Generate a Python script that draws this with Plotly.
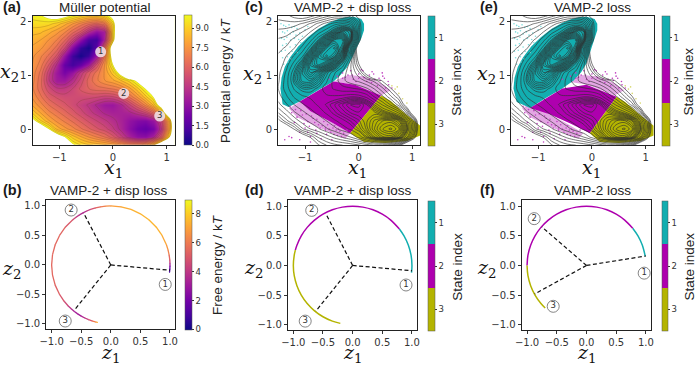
import numpy as np
import plotly.graph_objects as go
from plotly.colors import sample_colorscale

W, H = 696, 365

# energy surface, one list per row of the grid
grid_x = [-1.5, -1.35, -1.2, -1.05, -0.9, -0.75, -0.6, -0.45, -0.3, -0.15, 0, 0.15, 0.3, 0.45, 0.6, 0.75, 0.9, 1.05, 1.2]
grid_y = [-0.3, -0.15, 0, 0.15, 0.3, 0.45, 0.6, 0.75, 0.9, 1.05, 1.2, 1.35, 1.5, 1.65, 1.8, 1.95, 2.1]
row_00 = [28, 23, 18, 14.5, 12, 10.2, 9.5, 9.1, 8.9, 8.7, 8.4, 8, 7.6, 7.7, 8.2, 9.6, 12.5, 17, 25]
row_01 = [18, 14.5, 12, 11.2, 10, 8.8, 8.1, 7.5, 7, 6.5, 5.7, 4.7, 3.7, 3, 2.9, 3.7, 5.8, 9.6, 16]
row_02 = [13, 11.5, 10, 8.4, 7.7, 7.2, 6.6, 6.1, 5.6, 5.2, 4.6, 3.8, 2.9, 2.2, 1.9, 2.4, 4.4, 8.2, 14]
row_03 = [10.5, 9.1, 8.1, 7.4, 6.9, 6.4, 5.9, 5.4, 5, 4.6, 4.2, 3.7, 3.1, 2.7, 2.6, 3.2, 5, 8.4, 15]
row_04 = [8.9, 8, 7.2, 6.7, 6.2, 5.7, 5.2, 4.7, 4.3, 3.9, 3.7, 3.7, 3.8, 4.3, 4.9, 6, 8.2, 12.3, 22]
row_05 = [7.9, 7.2, 6.5, 6, 5.6, 5.2, 4.8, 4.4, 3.9, 3.4, 3.3, 3.9, 4.9, 6, 7.2, 8.6, 11, 18, 30]
row_06 = [7.4, 6.6, 5.8, 5.4, 5.2, 5.2, 5.2, 5.2, 5.1, 4.9, 5, 5.5, 6.6, 7.6, 8.8, 10, 15, 24, 35]
row_07 = [7.1, 6.2, 5.2, 4.6, 4.6, 5, 5.6, 6, 6.3, 6.4, 6.6, 7, 7.8, 8.8, 10, 12.5, 20, 30, 35]
row_08 = [7.2, 6.2, 4.6, 3.5, 3.4, 4.2, 5.2, 6.2, 6.9, 7.5, 7.9, 8.5, 9.2, 10.3, 13, 18, 28, 35, 35]
row_09 = [7.3, 6.4, 4.8, 3.4, 2.4, 3.2, 4.6, 5.8, 6.7, 7.6, 8.8, 10.8, 15, 22, 35, 35, 35, 35, 35]
row_10 = [7.5, 6.8, 5.6, 4, 1.9, 1.1, 1.9, 3.3, 5.5, 7.6, 10, 14, 20, 30, 35, 35, 35, 35, 35]
row_11 = [7.6, 7.1, 6.4, 5.4, 3.2, 1, 0.2, 0.9, 3.2, 6.7, 11, 16, 24, 35, 35, 35, 35, 35, 35]
row_12 = [7.9, 7.6, 7.1, 6.3, 5, 2.7, 0.8, 0.2, 1.7, 6.2, 11.5, 17, 26, 35, 35, 35, 35, 35, 35]
row_13 = [8.2, 8, 7.5, 7, 6.1, 4.8, 3, 1.2, 1, 3.8, 9.2, 14, 24, 35, 35, 35, 35, 35, 35]
row_14 = [8.7, 8.6, 8.2, 7.7, 7.1, 6.2, 5.4, 4, 3, 3.6, 9.2, 12.5, 22, 35, 35, 35, 35, 35, 35]
row_15 = [9.3, 9.3, 9.2, 8.8, 8.2, 7.5, 6.8, 6.2, 5.8, 6.5, 9.2, 13, 24, 35, 35, 35, 35, 35, 35]
row_16 = [9.7, 9.9, 10.4, 10.8, 10.4, 9.8, 9.2, 8.7, 8.8, 9.3, 10.6, 16, 28, 35, 35, 35, 35, 35, 35]
potential = [row_00, row_01, row_02, row_03, row_04, row_05, row_06, row_07, row_08,
             row_09, row_10, row_11, row_12, row_13, row_14, row_15, row_16]

# labelled minima on panel (a)
min_x = [-0.23, 0.2, 0.87]
min_y = [1.43, 0.66, 0.24]

# free energy along the circle, panel (b)
b_angle = [-7, -4, -1, 2, 5, 10, 15, 20, 30, 40, 50, 60, 70, 80, 90, 95, 100, 105, 110,
           114, 118, 122, 126, 130, 140, 150, 160, 170, 180, 190, 200, 210, 218, 224,
           228, 232, 236, 240, 244, 248, 252, 255, 257]
b_energy = [0.8, 1.5, 2.5, 4, 5, 6, 6.6, 7, 7.4, 7.5, 7.5, 7.5, 7.4, 7.2, 6.8, 6.4, 5.8, 5.2, 4.5,
            3.9, 3.5, 3.7, 4.2, 4.8, 5.3, 5.5, 5.5, 5.5, 5.5, 5.5, 5.4, 5.2, 4.8, 4.3,
            3.7, 3.3, 3.2, 3.3, 3.9, 4.6, 5.6, 6.5, 7.5]

# arcs coloured by state, angles in degrees
d_teal = [-7, 0, 10, 20, 30, 38]
d_magenta = [38, 50, 60, 70, 80, 90, 100, 110, 120, 130, 140, 150, 160, 165]
d_olive = [165, 170, 180, 190, 200, 210, 220, 230, 240, 250, 258]
f_teal = [9, 20, 30, 39]
f_magenta = [39, 50, 60, 70, 80, 90, 100, 110, 120, 130, 140, 150, 160, 170, 180]
f_olive = [180, 190, 200, 210, 220, 226]

# dashed spokes and circled labels
b_spoke_x = [[0, 1.0], [0, -0.46], [0, -0.62]]
b_spoke_y = [[0, -0.09], [0, 0.88], [0, -0.77]]
b_label_x = [0.92, -0.67, -0.77]
b_label_y = [-0.33, 0.93, -0.95]
d_spoke_x = [[0, 1.0], [0, -0.45], [0, -0.62]]
d_spoke_y = [[0, -0.09], [0, 0.87], [0, -0.77]]
d_label_x = [0.9, -0.69, -0.8]
d_label_y = [-0.33, 0.93, -0.94]
f_spoke_x = [[0, 1.0], [0, -0.75], [0, -0.87]]
f_spoke_y = [[0, 0.16], [0, 0.65], [0, -0.48]]
f_label_x = [0.97, -0.88, -0.56]
f_label_y = [-0.13, 0.79, -0.69]

# state regions of the sampled points, panels (c) and (e)
c_teal_x = [-1.42, -1.31, -1.12, -0.94, -0.7, -0.47, -0.34, -0.22, -0.12, -0.04, 0.05, 0.1, 0.1, 0.05, -0.1,
            -0.25, -0.38, -0.55, -0.75, -0.95, -1.13, -1.28, -1.38, -1.44, -1.46]
c_teal_y = [0.46, 0.41, 0.5, 0.61, 0.75, 0.88, 1.0, 1.14, 1.32, 1.5, 1.68, 1.83, 1.95, 2.04, 2.08,
            2.07, 2.04, 1.97, 1.86, 1.7, 1.53, 1.33, 1.15, 0.95, 0.75]
c_mag_x = [-1.1, -0.47, -0.07, 0.42, -0.16, -0.5, -0.9]
c_mag_y = [0.51, 0.88, 0.82, 0.62, -0.08, 0.12, 0.33]
c_olive_x = [0.42, 0.6, 0.85, 1.15, 1.15, 0.9, 0.5, 0.1, -0.16]
c_olive_y = [0.62, 0.52, 0.3, 0.06, -0.12, -0.22, -0.26, -0.24, -0.08]
e_teal_x = [-1.4, -1.15, -0.85, -0.55, -0.34, -0.2, -0.1, -0.02, 0.05, 0.1, 0.1, 0.05, -0.1,
            -0.25, -0.38, -0.55, -0.75, -0.95, -1.13, -1.28, -1.38, -1.44, -1.46]
e_teal_y = [0.5, 0.39, 0.58, 0.75, 0.9, 1.05, 1.22, 1.45, 1.68, 1.83, 1.95, 2.04, 2.08,
            2.07, 2.04, 1.97, 1.86, 1.7, 1.53, 1.33, 1.15, 0.95, 0.75]
e_mag_x = [-1.15, -0.55, -0.1, 0.46, -0.04, -0.4, -0.8]
e_mag_y = [0.39, 0.75, 0.82, 0.6, -0.08, 0.1, 0.28]
e_olive_x = [0.46, 0.62, 0.85, 1.15, 1.15, 0.9, 0.5, 0.15, -0.04]
e_olive_y = [0.6, 0.5, 0.3, 0.06, -0.12, -0.22, -0.26, -0.24, -0.08]
fringe_low_x = [-1.3, -1.15, -0.8, -0.5, -0.25, -0.16, -0.5, -0.9, -1.1]
fringe_low_y = [0.38, 0.22, 0.05, -0.08, -0.18, -0.08, 0.12, 0.33, 0.51]
fringe_up_x = [-0.47, -0.2, 0.1, 0.42, 0.6, 0.42, -0.07]
fringe_up_y = [0.88, 1.0, 0.98, 0.85, 0.72, 0.62, 0.82]

# stray points
cyan_x = [-1.45, -1.4, -1.36, -1.3, -1.25, -1.2, -1.15, -1.42, -1.38, -1.33, -1.28, -1.22, -1.17, -1.1,
          -1.44, -1.39, -1.34, -1.27, -1.2, -1.12, -1.05, -1.42, -1.35, -1.28, -1.18, -1.08, -1.0, -0.95,
          -1.44, -1.37, -1.3, -1.24, -1.15, -1.42, -1.33, -1.26, -1.4, -1.32]
cyan_y = [1.95, 1.92, 1.9, 1.93, 1.88, 1.9, 1.86, 1.8, 1.78, 1.82, 1.76, 1.8, 1.74, 1.78,
          1.68, 1.66, 1.7, 1.65, 1.68, 1.66, 1.72, 1.55, 1.58, 1.52, 1.56, 1.6, 1.84, 1.9,
          1.44, 1.46, 1.4, 1.44, 1.42, 1.32, 1.34, 1.3, 1.2, 1.24]
pink_x = [-0.55, -0.4, -0.3, -0.2, -0.1, 0.0, 0.1, 0.2, 0.3, 0.45, 0.55, 0.62, -0.15, 0.05, 0.25, 0.4,
          0.15, 0.35, 0.5, -0.05, -1.25, -1.15, -1.05, -0.95, -0.85, -0.75, -0.65, -0.55, -0.45, -0.35,
          -1.2, -1.0, -0.8, -0.6, -0.4, -1.1, -0.9, -0.7, -0.5, -1.3, -1.38, -1.25, -1.1, -0.9,
          -1.28, -1.18, -1.08, -0.98, -0.88, -0.78, -0.68, -0.58, -0.48, -0.38, -0.28, -0.22,
          -1.02, -0.92, -0.82, -0.72, -0.62, -0.52, -0.42, -0.32, -0.95, -0.78, -0.62, -0.46,
          -0.3, -0.12, 0.08, 0.28, 0.48, -0.25, 0.0, 0.2, 0.38, 0.56, 0.44, 0.24]
pink_y = [0.92, 0.98, 0.94, 1.0, 0.92, 1.02, 0.95, 1.0, 0.92, 0.98, 0.88, 0.76, 1.08, 1.1, 1.06, 0.9,
          0.88, 0.8, 0.76, 0.88, 0.3, 0.22, 0.26, 0.14, 0.2, 0.08, 0.14, 0.0, 0.06, -0.04,
          0.12, 0.02, -0.02, -0.1, -0.12, -0.06, -0.14, -0.18, -0.2, -0.14, -0.2, -0.16, -0.2, -0.24,
          0.42, 0.36, 0.34, 0.28, 0.24, 0.18, 0.06, 0.08, 0.02, 0.0, -0.08, -0.02,
          0.1, 0.05, 0.12, 0.02, 0.02, -0.06, -0.02, -0.14, -0.06, -0.08, -0.02, -0.1,
          1.04, 1.0, 1.08, 1.02, 0.94, 0.96, 0.94, 0.92, 0.94, 0.82, 1.04, 0.86]
yellow_x = [0.68, 0.75, 0.62, 0.82, 0.9, 0.72]
yellow_y = [0.74, 0.66, 0.8, 0.56, 0.48, 0.78]

# tick labels
potential_ticks = [0, 1.5, 3, 4.5, 6, 7.5, 9]
potential_ticktext = ["0.0", "1.5", "3.0", "4.5", "6.0", "7.5", "9.0"]
free_ticks = [0, 2, 4, 6, 8]
state_ticks = [1, 2, 3]
state_ticktext = ["3", "2", "1"]

TEAL, MAGENTA, OLIVE = "#12aeb0", "#ae00ae", "#b4b400"
TICK_FONT = dict(family="DejaVu Sans", size=10, color="#333333")
SMALL_FONT = dict(family="DejaVu Sans", size=8.5, color="#333333")
TITLE_FONT = dict(family="Liberation Sans", size=13.5, color="#222222")
LABEL_FONT = dict(family="Liberation Sans", size=14.5, color="#1a1a1a")
MATH_FONT = dict(family="DejaVu Serif", size=19, color="#111111")

# pixel boxes: left, right, top, bottom
boxes = {
    "a": (32.5, 174.7, 15.7, 145.2),
    "b": (46.3, 175.3, 200, 329.3),
    "c": (278.3, 420.3, 15.7, 145.2),
    "d": (288, 417.3, 200.3, 330),
    "e": (511.3, 653.7, 15.7, 145.2),
    "f": (521.7, 651.3, 200.3, 330),
}
axis_ids = {"a": "", "b": "2", "c": "3", "d": "4", "e": "5", "f": "6"}
x_range = [-1.5, 1.15]
y_range = [-0.3, 2.1]
z_x_range = [-1.09, 1.09]
z_y_range = [-1.09, 1.1]


def px_x(p):
    return p / W


def px_y(p):
    return 1 - p / H


fig = go.Figure()
layout = {}

for key, (l, r, t, b) in boxes.items():
    n = axis_ids[key]
    upper = key in "ace"
    common = dict(showline=True, linecolor="#222222", linewidth=1.2, mirror=True, ticks="outside",
                  ticklen=3, tickwidth=1, tickcolor="#333333", showgrid=False, zeroline=False,
                  tickfont=TICK_FONT)
    layout["xaxis" + n] = dict(common, domain=[px_x(l), px_x(r)], anchor="y" + n,
                               range=x_range if upper else z_x_range,
                               tickvals=[-1, 0, 1] if upper else [-1, -0.5, 0, 0.5, 1],
                               ticktext=["\u22121", "0", "1"] if upper else ["\u22121.0", "\u22120.5", "0.0", "0.5", "1.0"])
    layout["yaxis" + n] = dict(common, domain=[px_y(b), px_y(t)], anchor="x" + n,
                               range=y_range if upper else z_y_range,
                               tickvals=[0, 1, 2] if upper else [-1, -0.5, 0, 0.5, 1],
                               ticktext=["0", "1", "2"] if upper else ["\u22121.0", "\u22120.5", "0.0", "0.5", "1.0"])


def bar(key, x0, x1, top, bottom, **kw):
    return dict(x=px_x(x0), xanchor="left", y=px_y(bottom), yanchor="bottom", len=(bottom - top) / H,
                lenmode="fraction", thickness=x1 - x0, thicknessmode="pixels", xpad=0, ypad=0,
                ticks="outside", ticklen=2, tickcolor="#333333", outlinewidth=0.5, outlinecolor="#555555",
                tickfont=SMALL_FONT, **kw)


# (a) filled potential
fig.add_trace(go.Contour(x=grid_x, y=grid_y, z=potential, colorscale="Plasma", zmin=0, zmax=10,
                         contours=dict(coloring="heatmap", start=0, end=10, size=0.5, showlines=False),
                         line=dict(width=0, smoothing=1),
                         colorbar=bar("a", 184, 191.7, 15.7, 145.2, tickvals=potential_ticks, ticktext=potential_ticktext)))
fig.add_trace(go.Contour(x=grid_x, y=grid_y, z=potential, showscale=False,
                         contours=dict(coloring="none", start=4, end=10, size=0.5),
                         line=dict(color="rgba(110,60,30,0.4)", width=0.6, smoothing=1)))
fig.add_trace(go.Contour(x=grid_x, y=grid_y, z=potential, showscale=False, fillcolor="white",
                         contours=dict(type="constraint", operation="<", value=10),
                         line=dict(width=0, smoothing=1)))
fig.add_trace(go.Scatter(x=min_x, y=min_y, mode="markers+text", text=["1", "2", "3"], textposition="middle center",
                         textfont=dict(family="DejaVu Sans", size=8.5, color="#333333"),
                         marker=dict(size=11, color="rgba(240,225,232,0.88)", line=dict(width=0)),
                         showlegend=False, hoverinfo="skip"))


def circled(xs, ys, n):
    return go.Scatter(x=xs, y=ys, mode="markers+text", text=["1", "2", "3"], textposition="middle center",
                      textfont=dict(family="DejaVu Sans", size=8.5, color="#333333"),
                      marker=dict(size=12, color="white", line=dict(width=0.8, color="#666666")),
                      xaxis="x" + n, yaxis="y" + n, showlegend=False, hoverinfo="skip")


def spokes(sx, sy, n):
    for xs, ys in zip(sx, sy):
        fig.add_trace(go.Scatter(x=xs, y=ys, mode="lines", line=dict(color="#111111", width=1.2, dash="4px,2.5px"),
                                 xaxis="x" + n, yaxis="y" + n, showlegend=False, hoverinfo="skip"))


def arc(angles, color, n):
    a = np.radians(angles)
    fig.add_trace(go.Scatter(x=np.cos(a), y=np.sin(a), mode="lines", line=dict(color=color, width=1.5, shape="spline"),
                             xaxis="x" + n, yaxis="y" + n, showlegend=False, hoverinfo="skip"))


# (b) circle coloured by free energy
for i in range(len(b_angle) - 1):
    a = np.radians(b_angle[i:i + 2])
    c = sample_colorscale("Plasma", (b_energy[i] + b_energy[i + 1]) / 2 / 9)[0]
    fig.add_trace(go.Scatter(x=np.cos(a), y=np.sin(a), mode="lines", line=dict(color=c, width=1.3),
                             xaxis="x2", yaxis="y2", showlegend=False, hoverinfo="skip"))
fig.add_trace(go.Scatter(x=np.cos(np.radians(b_angle)), y=np.sin(np.radians(b_angle)), mode="markers",
                         marker=dict(size=1, color=b_energy, colorscale="Plasma", cmin=0, cmax=9,
                                     colorbar=bar("b", 185.3, 192, 200, 329.5, tickvals=free_ticks)),
                         xaxis="x2", yaxis="y2", showlegend=False, hoverinfo="skip"))
spokes(b_spoke_x, b_spoke_y, "2")
fig.add_trace(circled(b_label_x, b_label_y, "2"))

state_scale = [[0, OLIVE], [1 / 3, OLIVE], [1 / 3, MAGENTA], [2 / 3, MAGENTA], [2 / 3, TEAL], [1, TEAL]]


def state_bar(n, x0, x1, top, bottom):
    fig.add_trace(go.Scatter(x=[0], y=[0], mode="markers",
                             marker=dict(size=1, opacity=0, color=[2], colorscale=state_scale, cmin=0.5, cmax=3.5,
                                         colorbar=bar(n, x0, x1, top, bottom, tickvals=state_ticks, ticktext=state_ticktext)),
                             xaxis="x" + n, yaxis="y" + n, showlegend=False, hoverinfo="skip"))


# (d) and (f) circles coloured by state
for n, teal, mag, oli in (("4", d_teal, d_magenta, d_olive), ("6", f_teal, f_magenta, f_olive)):
    arc(teal, TEAL, n)
    arc(mag, MAGENTA, n)
    arc(oli, OLIVE, n)
spokes(d_spoke_x, d_spoke_y, "4")
spokes(f_spoke_x, f_spoke_y, "6")
fig.add_trace(circled(d_label_x, d_label_y, "4"))
fig.add_trace(circled(f_label_x, f_label_y, "6"))
state_bar("4", 428, 435, 201, 331)
state_bar("6", 662.3, 668.5, 201, 331)


# (c) and (e) sampled states, with the contour lines on an overlay axis so they sit on top
def states(n, over, tx, ty, mx, my, ox, oy):
    for xs, ys in ((fringe_low_x, fringe_low_y), (fringe_up_x, fringe_up_y)):
        fig.add_trace(go.Scatter(x=xs, y=ys, mode="lines", fill="toself", fillcolor="rgba(174,0,174,0.35)",
                                 line=dict(width=0), xaxis="x" + n, yaxis="y" + n, showlegend=False, hoverinfo="skip"))
    for xs, ys, col in ((tx, ty, TEAL), (mx, my, MAGENTA), (ox, oy, OLIVE)):
        fig.add_trace(go.Scatter(x=xs, y=ys, mode="lines", fill="toself", fillcolor=col,
                                 line=dict(width=0, color=col), xaxis="x" + n, yaxis="y" + n,
                                 showlegend=False, hoverinfo="skip"))
    for xs, ys, col in ((cyan_x, cyan_y, "#7fdcdc"), (pink_x, pink_y, "#c040c0"), (yellow_x, yellow_y, "#d8d870")):
        fig.add_trace(go.Scatter(x=xs, y=ys, mode="markers", marker=dict(size=1.6, color=col),
                                 xaxis="x" + n, yaxis="y" + n, showlegend=False, hoverinfo="skip"))
    # lines sit closer together around the wells than out on the slopes
    for start, end, size in ((0.3, 5, 0.24), (5.3, 10.1, 0.6)):
        fig.add_trace(go.Contour(x=grid_x, y=grid_y, z=potential, showscale=False,
                                 contours=dict(coloring="none", start=start, end=end, size=size),
                                 line=dict(color="rgba(45,45,45,0.8)", width=0.8, smoothing=1),
                                 xaxis="x" + over, yaxis="y" + over, hoverinfo="skip"))
    layout["xaxis" + over] = dict(overlaying="x" + n, range=x_range, visible=False, anchor="y" + over)
    layout["yaxis" + over] = dict(overlaying="y" + n, range=y_range, visible=False, anchor="x" + over)


states("3", "7", c_teal_x, c_teal_y, c_mag_x, c_mag_y, c_olive_x, c_olive_y)
states("5", "8", e_teal_x, e_teal_y, e_mag_x, e_mag_y, e_olive_x, e_olive_y)
state_bar("3", 427.7, 435, 15.7, 146)
state_bar("5", 662, 669.5, 15.7, 146)

# all free text
notes = []


def note(text, x, y, font, angle=0, anchor="center"):
    notes.append(dict(text=text, x=px_x(x), y=px_y(y), xref="paper", yref="paper", showarrow=False, font=font,
                      textangle=angle, xanchor=anchor, yanchor="middle"))


for text, x, y in (("M\u00fcller potential", 105, 7), ("VAMP-2 + disp loss", 109, 191), ("VAMP-2 + disp loss", 352, 7),
                   ("VAMP-2 + disp loss", 352, 191), ("VAMP-2 loss", 592, 7), ("VAMP-2 loss", 592, 191)):
    note(text, x, y, TITLE_FONT)
for text, x, y in (("(a)", 1, 7), ("(b)", 1, 190), ("(c)", 243, 7), ("(d)", 243, 190), ("(e)", 478, 7), ("(f)", 478, 190)):
    note("<b>" + text + "</b>", x, y, LABEL_FONT, anchor="left")
for x, y in ((113, 168), (357.7, 168), (591, 168)):
    note("<i>x</i><sub>1</sub>", x, y, MATH_FONT)
for x, y in ((9.5, 73), (252, 74), (486, 74)):
    note("<i>x</i><sub>2</sub>", x, y, MATH_FONT)
for x, y in ((110, 353.5), (352, 353.5), (586, 353.5)):
    note("<i>z</i><sub>1</sub>", x, y, MATH_FONT)
for x, y in ((11, 269), (253, 268), (486.5, 268)):
    note("<i>z</i><sub>2</sub>", x, y, MATH_FONT)
note("Potential energy / k<i>T</i>", 225, 80, TITLE_FONT, angle=-90)
note("Free energy / k<i>T</i>", 217, 265, TITLE_FONT, angle=-90)
for x, y in ((456.7, 82), (456.7, 267), (688.5, 82), (688.5, 267)):
    note("State index", x, y, TITLE_FONT, angle=-90)

fig.update_layout(width=W, height=H, margin=dict(l=0, r=0, t=0, b=0, autoexpand=False), paper_bgcolor="white",
                  plot_bgcolor="white", showlegend=False, annotations=notes, **layout)

fig.write_html("out.html", config={"displayModeBar": False}, post_script="document.body.style.margin='0';")
